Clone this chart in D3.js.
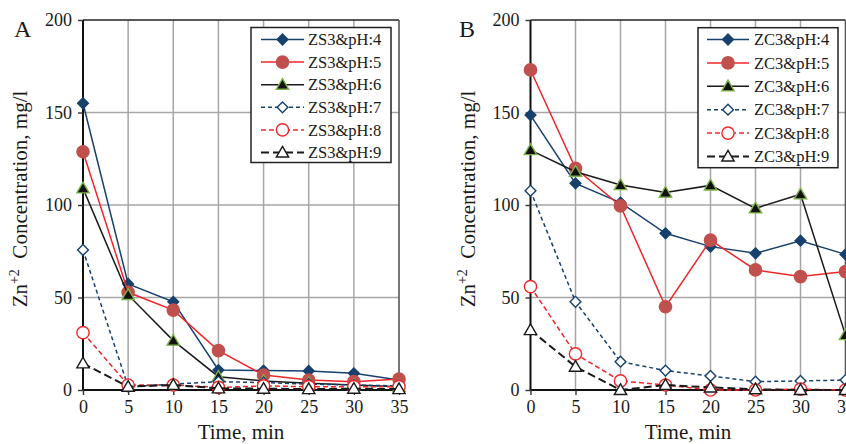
<!DOCTYPE html>
<html>
<head>
<meta charset="utf-8">
<script src="https://cdn.jsdelivr.net/npm/d3@7/dist/d3.min.js"></script>
<style>
  html, body { margin: 0; padding: 0; background: #fff; }
  svg { display: block; }
  svg text { font-family: "Liberation Serif"; }
</style>
</head>
<body>
<svg id="chart" width="846" height="444"></svg>
<script>
// Sampling times (min) and axis ticks
const times = [0, 5, 10, 15, 20, 25, 30, 35];
const yTicks = [0, 50, 100, 150, 200];
const xTicks = [0, 5, 10, 15, 20, 25, 30, 35];

// Panel A: ZS3 adsorbent, Zn+2 concentration (mg/l)
const labelsA = ["ZS3&pH:4", "ZS3&pH:5", "ZS3&pH:6", "ZS3&pH:7", "ZS3&pH:8", "ZS3&pH:9"];
const zs3_pH4 = [155, 57.3, 47.7, 10.8, 10.5, 10.3, 9.0, 5.4];
const zs3_pH5 = [128.8, 52.8, 43.2, 21.3, 8.1, 5.4, 4.5, 5.9];
const zs3_pH6 = [109, 51.4, 26.7, 7.2, 4.9, 3.6, 2.7, 1.8];
const zs3_pH7 = [75.7, 1.8, 3.2, 4.5, 4.0, 3.2, 2.7, 2.2];
const zs3_pH8 = [31, 2.7, 2.7, 1.4, 2.2, 1.8, 1.8, 1.8];
const zs3_pH9 = [14.4, 1.8, 2.7, 0.9, 0.7, 0.5, 0.7, 0.5];

// Panel B: ZC3 adsorbent, Zn+2 concentration (mg/l)
const labelsB = ["ZC3&pH:4", "ZC3&pH:5", "ZC3&pH:6", "ZC3&pH:7", "ZC3&pH:8", "ZC3&pH:9"];
const zc3_pH4 = [148.6, 111.7, 101.3, 84.7, 77.5, 73.9, 80.7, 73.3];
const zc3_pH5 = [173, 119.8, 99.5, 45, 81, 64.9, 61.3, 64];
const zc3_pH6 = [129.7, 118, 110.8, 106.7, 110.6, 98.2, 105.8, 29.7];
const zc3_pH7 = [107.7, 47.7, 15.3, 10.5, 7.6, 4.5, 4.9, 5.4];
const zc3_pH8 = [55.9, 19.5, 4.9, 2.7, 0, 0, 0.5, 0];
const zc3_pH9 = [32.4, 12.6, 0, 2.7, 1.4, 0.4, 0, 0];

const FONT = '"Liberation Serif", "Times New Roman", Times, serif';

// Visual style per pH level (shared by both panels)
const styles = [
  { stroke: "#17406d", dash: null,  marker: "diamond",  fill: "#17406d", mstroke: "#17406d" },
  { stroke: "#f0262a", dash: null,  marker: "circle",   fill: "#c0504d", mstroke: "#c0504d" },
  { stroke: "#1a1a1a", dash: null,  marker: "triangle", fill: "#111111", mstroke: "#7fb24a" },
  { stroke: "#17406d", dash: "4,3", marker: "diamond",  fill: "#ffffff", mstroke: "#17406d" },
  { stroke: "#f0262a", dash: "5,3", marker: "circle",   fill: "#ffffff", mstroke: "#f0262a" },
  { stroke: "#1a1a1a", dash: "8,4", marker: "triangle", fill: "#ffffff", mstroke: "#1a1a1a" }
];

const svg = d3.select("#chart");

function markerPath(kind) {
  if (kind === "diamond") return d3.symbol().type(d3.symbolSquare).size(58)();
  if (kind === "circle") return d3.symbol().type(d3.symbolCircle).size(118)();
  return d3.symbol().type(d3.symbolTriangle).size(66)();
}

function drawMarker(g, kind, st, x, y) {
  return g.append("path")
    .attr("d", markerPath(kind))
    .attr("fill", st.fill)
    .attr("stroke", st.mstroke)
    .attr("stroke-width", 1.4)
    .attr("transform", kind === "diamond"
      ? `translate(${x},${y}) rotate(45)`
      : `translate(${x},${y + (kind === "triangle" ? 1 : 0)})`);
}

function txt(sel, size) {
  return sel.style("font-family", FONT).style("font-size", size + "px").attr("fill", "#1a1a1a");
}

function drawPanel(cfg) {
  const x = d3.scaleLinear().domain([0, 35]).range([cfg.x0, cfg.x1]);
  const y = d3.scaleLinear().domain([0, 200]).range([390, 20]);
  const g = svg.append("g");

  // grid
  g.append("g").selectAll("line").data(yTicks.filter(v => v > 0 && v < 200)).join("line")
    .attr("x1", cfg.x0).attr("x2", cfg.x1)
    .attr("y1", d => y(d)).attr("y2", d => y(d))
    .attr("stroke", "#a6a6a6").attr("stroke-width", 1.5);
  g.append("g").selectAll("line").data(xTicks.filter(v => v > 0 && v < 35)).join("line")
    .attr("x1", d => x(d)).attr("x2", d => x(d))
    .attr("y1", 20).attr("y2", 390)
    .attr("stroke", "#a6a6a6").attr("stroke-width", 1.5);

  // frame (top and right)
  g.append("line").attr("x1", cfg.x0).attr("x2", cfg.x1).attr("y1", 20).attr("y2", 20)
    .attr("stroke", "#222").attr("stroke-width", 1.6);
  g.append("line").attr("x1", cfg.x1).attr("x2", cfg.x1).attr("y1", 20).attr("y2", 390)
    .attr("stroke", "#555").attr("stroke-width", 1.6);

  // axes
  const yAxis = d3.axisLeft(y).tickValues(yTicks).tickSize(5).tickPadding(6);
  const gy = g.append("g").attr("transform", `translate(${cfg.x0},0)`).call(yAxis);
  const xAxis = d3.axisBottom(x).tickValues(xTicks).tickSize(5).tickPadding(5);
  const gx = g.append("g").attr("transform", `translate(0,390)`).call(xAxis);
  [gx, gy].forEach(a => {
    a.attr("font-family", null).attr("font-size", null);
    a.select(".domain").attr("stroke", "#111").attr("stroke-width", 2);
    a.selectAll(".tick line").attr("stroke", "#333").attr("stroke-width", 1.4);
    txt(a.selectAll(".tick text"), 18);
  });
  gy.select(".domain").attr("d", `M0,390V20`);
  gx.select(".domain").attr("d", `M${cfg.x0},0H${cfg.x1}`);

  // series
  const line = d3.line().x((d, i) => x(times[i])).y(d => y(d));
  cfg.series.forEach((vals, k) => {
    const st = styles[k];
    g.append("path").datum(vals)
      .attr("d", line)
      .attr("fill", "none")
      .attr("stroke", st.stroke)
      .attr("stroke-width", k === 5 ? 2 : 1.5)
      .attr("stroke-dasharray", st.dash);
    const mg = g.append("g");
    vals.forEach((v, i) => drawMarker(mg, st.marker, st, x(times[i]), y(v)));
  });

  // legend
  const L = cfg.legend;
  g.append("rect").attr("x", L.x).attr("y", L.y).attr("width", L.w).attr("height", L.h)
    .attr("fill", "#fff").attr("stroke", "#222").attr("stroke-width", 1.5);
  cfg.labels.forEach((lab, k) => {
    const st = styles[k];
    const cy = L.row0 + k * L.step;
    g.append("line").attr("x1", L.lx0).attr("x2", L.lx1).attr("y1", cy).attr("y2", cy)
      .attr("stroke", st.stroke).attr("stroke-width", k === 5 ? 2 : 1.5)
      .attr("stroke-dasharray", st.dash);
    drawMarker(g, st.marker, st, (L.lx0 + L.lx1) / 2, cy);
    txt(g.append("text"), 16.5).attr("x", L.tx).attr("y", cy).attr("dy", "0.35em").text(lab);
  });

  // axis titles
  txt(g.append("text"), 21).attr("x", (cfg.x0 + cfg.x1) / 2).attr("y", 439)
    .attr("text-anchor", "middle").text("Time, min");
  const yt = txt(g.append("text"), 21)
    .attr("transform", `translate(${cfg.x0 - 56},199) rotate(-90)`)
    .attr("text-anchor", "middle");
  yt.append("tspan").text("Zn");
  yt.append("tspan").attr("dy", -8).style("font-size", "14px").text("+2");
  yt.append("tspan").attr("dy", 8).text("\u00a0 Concentration, mg/l");

  // panel letter
  txt(g.append("text"), 24).attr("x", cfg.letterX).attr("y", 37).text(cfg.letter);
}

drawPanel({
  x0: 83, x1: 399, letter: "A", letterX: 14,
  labels: labelsA,
  series: [zs3_pH4, zs3_pH5, zs3_pH6, zs3_pH7, zs3_pH8, zs3_pH9],
  legend: { x: 251, y: 27.5, w: 140, h: 135, row0: 39.5, step: 22.6, lx0: 261, lx1: 304, tx: 308 }
});

drawPanel({
  x0: 530.5, x1: 845.5, letter: "B", letterX: 459,
  labels: labelsB,
  series: [zc3_pH4, zc3_pH5, zc3_pH6, zc3_pH7, zc3_pH8, zc3_pH9],
  legend: { x: 698, y: 27.7, w: 140, h: 140, row0: 39.5, step: 23.4, lx0: 707, lx1: 749, tx: 754 }
});
</script>
</body>
</html>
